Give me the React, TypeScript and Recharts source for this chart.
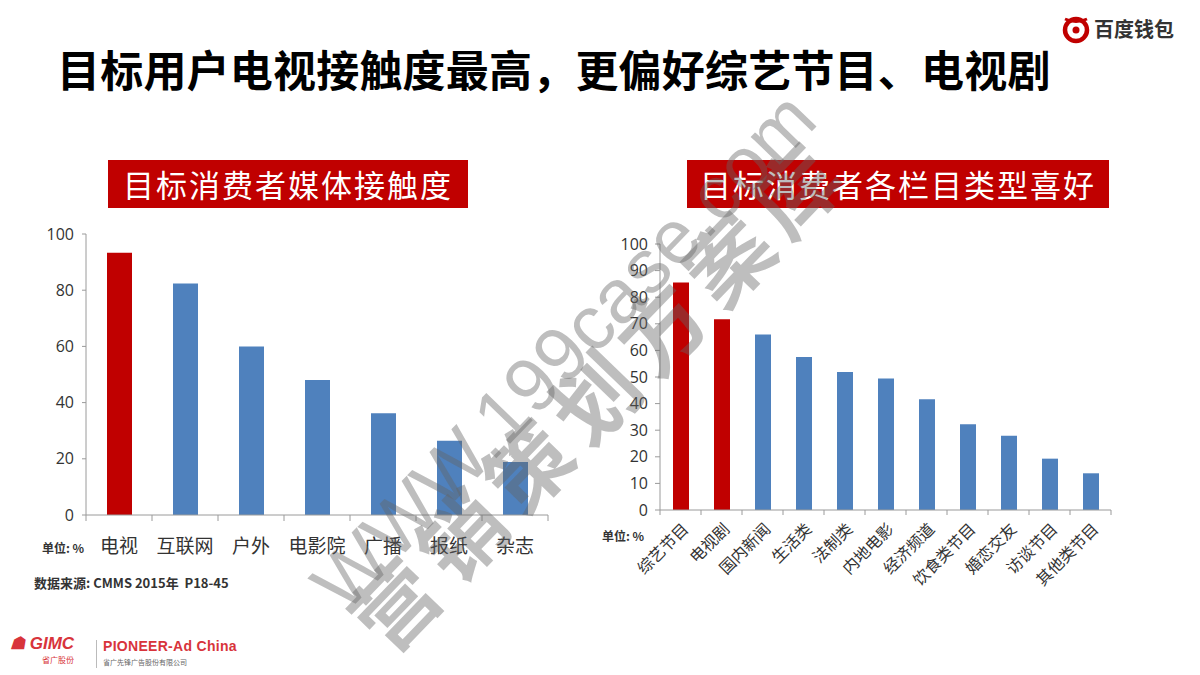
import React from 'react';
import { BarChart, Bar, XAxis, YAxis, Cell } from 'recharts';

const mediaCategories = ['电视', '互联网', '户外', '电影院', '广播', '报纸', '杂志'];
const mediaValues = [93.3, 82.4, 60, 48, 36.2, 26.4, 18.9];
const mediaHighlight = ['电视'];
const mediaTicks = [0, 20, 40, 60, 80, 100];

const programCategories = ['综艺节目', '电视剧', '国内新闻', '生活类', '法制类', '内地电影', '经济频道', '饮食类节目', '婚恋交友', '访谈节目', '其他类节目'];
const programValues = [85.5, 71.7, 66, 57.5, 51.9, 49.4, 41.6, 32.2, 27.9, 19.3, 13.8];
const programHighlight = ['综艺节目', '电视剧'];
const programTicks = [0, 10, 20, 30, 40, 50, 60, 70, 80, 90, 100];

const mediaData = mediaCategories.map((name, i) => ({ name, value: mediaValues[i] }));
const programData = programCategories.map((name, i) => ({ name, value: programValues[i] }));

const RED = '#C00000';
const BLUE = '#4F81BD';
const AXIS = '#9A9A9A';
const TEXT = '#333333';
const NUM_FONT = '"Open Sans", "Noto Sans CJK SC", sans-serif';
const CJK = '"Noto Sans CJK SC", "Noto Sans", sans-serif';

// left chart geometry
const L_W = 560, L_H = 600;
const L_M = { top: 234, right: 12, bottom: 45, left: 42 };
const L_YW = 44;
const L_XH = 40;
const L_HALF = (L_W - L_M.left - L_YW - L_M.right) / mediaCategories.length / 2;

// right chart geometry
const R_W = 540, R_H = 640;
const R_M = { top: 244, right: 19, bottom: 50, left: 34 };
const R_YW = 36;
const R_XH = 80;
const R_HALF = (R_W - R_M.left - R_YW - R_M.right) / programCategories.length / 2;

const LeftTick = (props: any) => {
  const { x, y, payload, index } = props;
  const half = payload && payload.offset ? payload.offset : L_HALF;
  return (
    <g>
      {index === 0 && <line x1={x - half} x2={x - half} y1={y} y2={y + 6} stroke={AXIS} />}
      <line x1={x + half} x2={x + half} y1={y} y2={y + 6} stroke={AXIS} />
      <text x={x} y={y + 33} textAnchor="middle" dominantBaseline="middle" fill={TEXT} fontSize={19} fontFamily={CJK}>
        {payload.value}
      </text>
    </g>
  );
};

const RightTick = (props: any) => {
  const { x, y, payload, index } = props;
  const half = payload && payload.offset ? payload.offset : R_HALF;
  return (
    <g>
      {index === 0 && <line x1={x - half} x2={x - half} y1={y} y2={y + 5} stroke={AXIS} />}
      <line x1={x + half} x2={x + half} y1={y} y2={y + 5} stroke={AXIS} />
      <text
        x={x + 6}
        y={y + 17}
        textAnchor="end"
        dominantBaseline="middle"
        transform={`rotate(-45 ${x + 6} ${y + 17})`}
        fill={TEXT}
        fontSize={16}
        fontFamily={CJK}
      >
        {payload.value}
      </text>
    </g>
  );
};

const abs = (s: React.CSSProperties): React.CSSProperties => ({ position: 'absolute', ...s });

export default function App() {
  return (
    <div style={abs({ left: 0, top: 0, width: 1200, height: 675, background: '#fff', overflow: 'hidden', fontFamily: CJK })}>
      {/* main title */}
      <div style={abs({ left: 57, top: 40, fontSize: 43, fontWeight: 700, color: '#000', whiteSpace: 'nowrap', lineHeight: '56px', letterSpacing: 0.2 })}>
        目标用户电视接触度最高，更偏好综艺节目、电视剧
      </div>

      {/* logo top right */}
      <svg style={abs({ left: 1060, top: 14, width: 32, height: 32 })} width={32} height={32}>
        <circle cx={16} cy={16} r={11} fill="none" stroke={RED} strokeWidth={4.5} />
        <circle cx={16} cy={16} r={3.5} fill={RED} />
        <path d="M5 5 Q16 10 27 5" stroke={RED} strokeWidth={3} fill="none" />
      </svg>
      <div style={abs({ left: 1094, top: 15, fontSize: 20, fontWeight: 700, color: '#333', lineHeight: '28px', whiteSpace: 'nowrap' })}>
        百度钱包
      </div>

      {/* red section headers */}
      <div style={abs({ left: 108, top: 160, width: 360, height: 48, background: RED, color: '#fff', fontSize: 31, lineHeight: '48px', textAlign: 'center', letterSpacing: 2, whiteSpace: 'nowrap' })}>
        目标消费者媒体接触度
      </div>
      <div style={abs({ left: 687, top: 160, width: 422, height: 48, background: RED, color: '#fff', fontSize: 31, lineHeight: '48px', textAlign: 'center', letterSpacing: 2, whiteSpace: 'nowrap' })}>
        目标消费者各栏目类型喜好
      </div>

      {/* left chart */}
      <div style={abs({ left: 0, top: 0, width: L_W, height: L_H })}>
        <BarChart width={L_W} height={L_H} data={mediaData} margin={L_M} barSize={25}>
          <XAxis
            dataKey="name"
            height={L_XH}
            interval={0}
            tickLine={false}
            tickSize={0}
            tickMargin={0}
            axisLine={{ stroke: AXIS }}
            tick={<LeftTick />}
          />
          <YAxis
            width={L_YW}
            domain={[0, 100]}
            ticks={mediaTicks}
            interval={0}
            tickSize={4}
            tickMargin={8}
            tickLine={{ stroke: AXIS }}
            axisLine={{ stroke: AXIS }}
            tick={{ fill: TEXT, fontSize: 16, fontFamily: NUM_FONT }}
          />
          <Bar dataKey="value" isAnimationActive={false}>
            {mediaData.map((d) => (
              <Cell key={d.name} fill={mediaHighlight.includes(d.name) ? RED : BLUE} />
            ))}
          </Bar>
        </BarChart>
      </div>

      {/* right chart */}
      <div style={abs({ left: 590, top: 0, width: R_W, height: R_H })}>
        <BarChart width={R_W} height={R_H} data={programData} margin={R_M} barSize={16}>
          <XAxis
            dataKey="name"
            height={R_XH}
            interval={0}
            tickLine={false}
            tickSize={0}
            tickMargin={0}
            axisLine={{ stroke: AXIS }}
            tick={<RightTick />}
          />
          <YAxis
            width={R_YW}
            domain={[0, 100]}
            ticks={programTicks}
            interval={0}
            tickSize={5}
            tickMargin={7}
            tickLine={{ stroke: AXIS }}
            axisLine={{ stroke: AXIS }}
            tick={{ fill: TEXT, fontSize: 16, fontFamily: NUM_FONT }}
          />
          <Bar dataKey="value" isAnimationActive={false}>
            {programData.map((d) => (
              <Cell key={d.name} fill={programHighlight.includes(d.name) ? RED : BLUE} />
            ))}
          </Bar>
        </BarChart>
      </div>

      {/* unit labels and source */}
      <div style={abs({ left: 42, top: 540, fontSize: 12, fontWeight: 700, color: TEXT, lineHeight: '16px', whiteSpace: 'nowrap' })}>
        单位: %
      </div>
      <div style={abs({ left: 602, top: 528, fontSize: 12, fontWeight: 700, color: TEXT, lineHeight: '16px', whiteSpace: 'nowrap' })}>
        单位: %
      </div>
      <div style={abs({ left: 34, top: 575, fontSize: 13, fontWeight: 700, color: TEXT, lineHeight: '16px', whiteSpace: 'nowrap' })}>
        数据来源: CMMS 2015年&nbsp;&nbsp;P18-45
      </div>

      {/* footer logos */}
      <div style={abs({ left: 10, top: 634, fontSize: 17, fontWeight: 700, fontStyle: 'italic', color: '#D8343B', lineHeight: '20px', whiteSpace: 'nowrap', fontFamily: 'Liberation Sans, sans-serif' })}>
        ☗ GIMC
      </div>
      <div style={abs({ left: 42, top: 655, fontSize: 8, color: '#D8343B', lineHeight: '10px', whiteSpace: 'nowrap' })}>
        省广股份
      </div>
      <div style={abs({ left: 96, top: 640, width: 1, height: 28, background: '#bbb' })} />
      <div style={abs({ left: 103, top: 638, fontSize: 14, fontWeight: 700, color: '#D8343B', lineHeight: '16px', whiteSpace: 'nowrap', fontFamily: 'Liberation Sans, sans-serif', letterSpacing: 0.3 })}>
        PIONEER-Ad China
      </div>
      <div style={abs({ left: 103, top: 657, fontSize: 7, color: '#666', lineHeight: '10px', whiteSpace: 'nowrap' })}>
        省广先锋广告股份有限公司
      </div>

      {/* watermark */}
      <svg style={abs({ left: 0, top: 0, width: 1200, height: 675, pointerEvents: 'none' })} width={1200} height={675}>
        <text
          x={568}
          y={355}
          textAnchor="middle"
          dominantBaseline="middle"
          transform="rotate(-46 568 355)"
          fontSize={76}
          fontFamily="Liberation Sans, Arial, sans-serif"
          fill="rgba(100,100,100,0.42)"
        >
          WWW.199case.com
        </text>
        <text
          x={606}
          y={400}
          textAnchor="middle"
          dominantBaseline="middle"
          transform="rotate(-46 606 400)"
          fontSize={84}
          fontWeight={700}
          fontFamily={CJK}
          letterSpacing={12}
          fill="rgba(100,100,100,0.42)"
        >
          营销策划方案库
        </text>
      </svg>
    </div>
  );
}
